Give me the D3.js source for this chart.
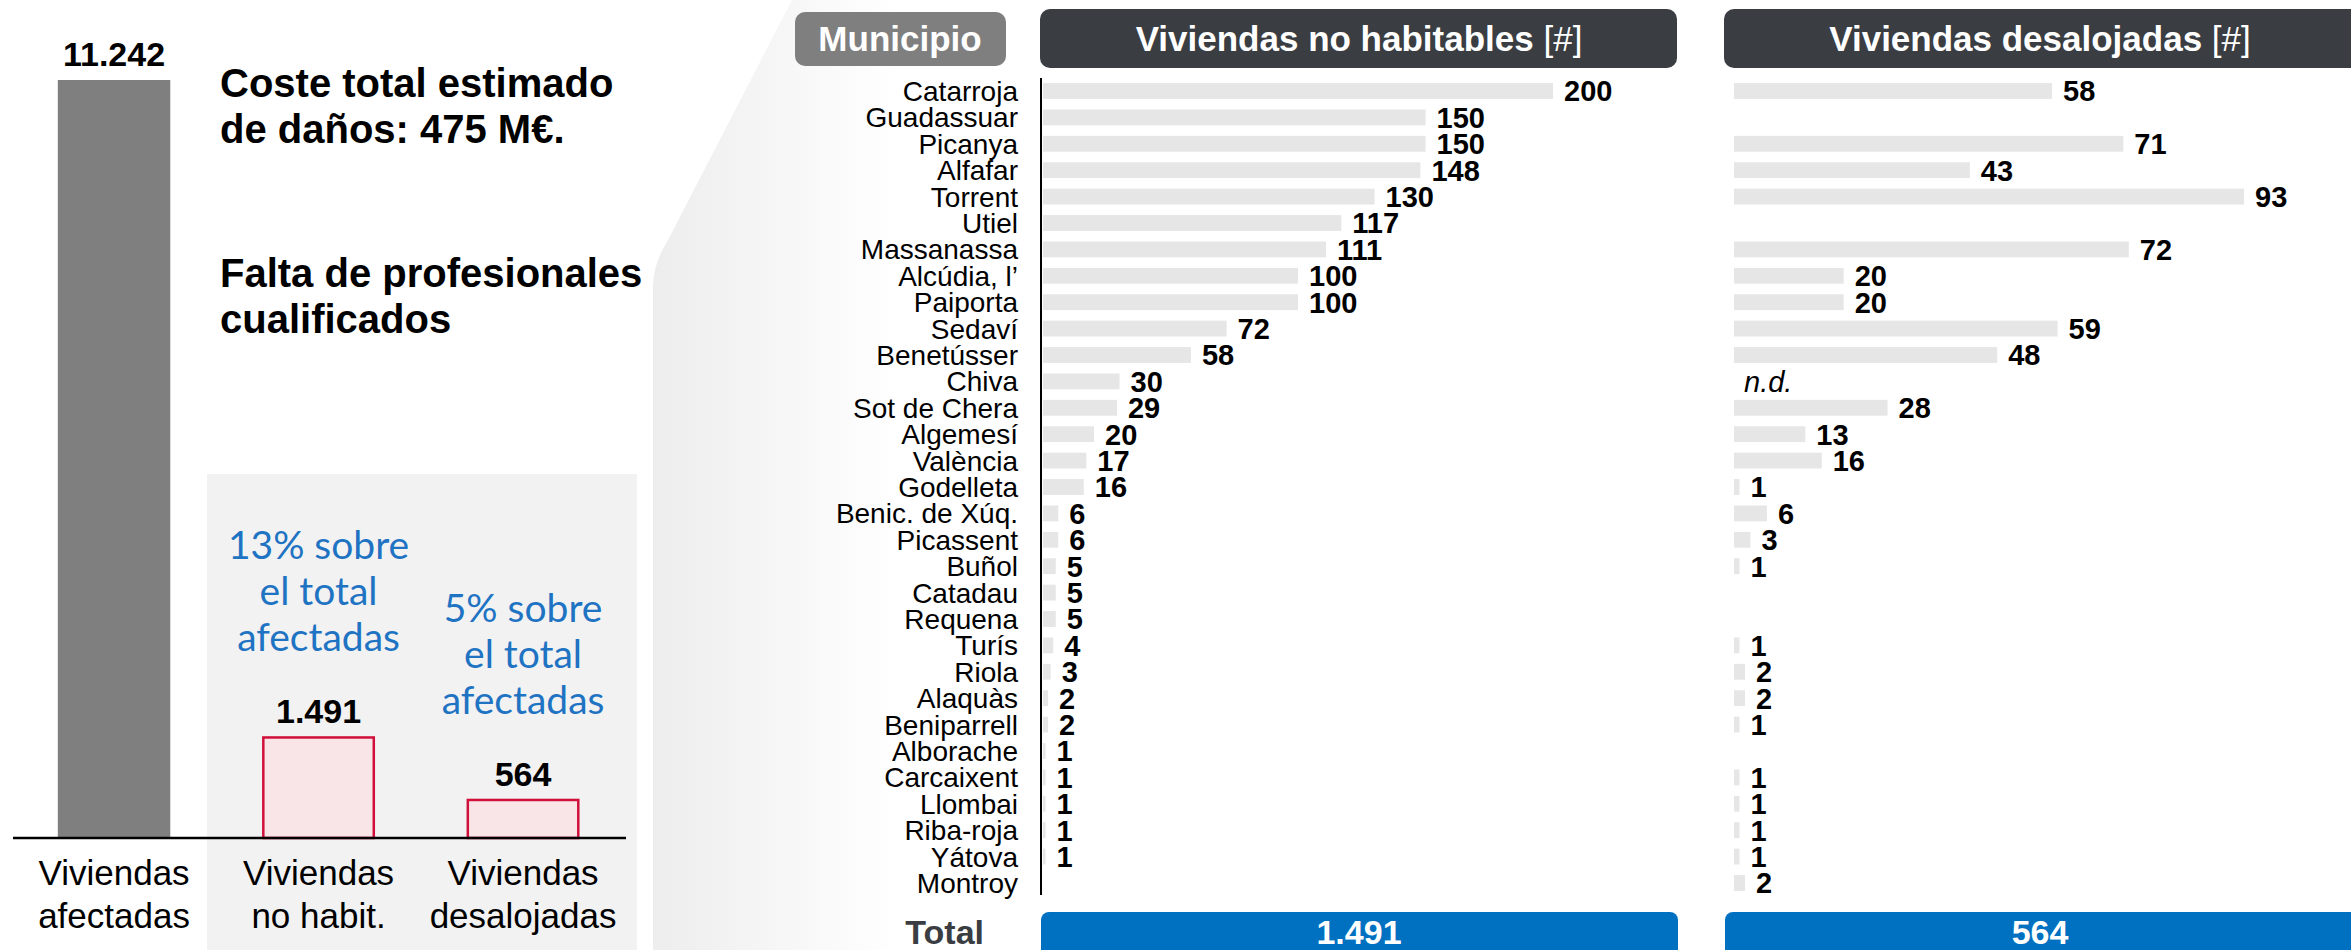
<!DOCTYPE html>
<meta charset="utf-8">
<body>
  <svg id="grafico"></svg>
</body>

<style>
body { margin: 0; background: #fff; }
svg text { font-family: "Liberation Sans", Arial, sans-serif; }
.valor { font-weight: bold; font-size: 29px; fill: #000; }
.municipio { font-size: 28px; fill: #000; }
.nota { font-family: Lato, "Open Sans", sans-serif !important; font-size: 39px; fill: #1f73c3; }
</style>

<script src="https://d3js.org/d3.v7.min.js"></script>
<script>

// datos
var municipios = ["Catarroja", "Guadassuar", "Picanya", "Alfafar", "Torrent", "Utiel", "Massanassa",
  "Alcúdia, l’", "Paiporta", "Sedaví", "Benetússer", "Chiva", "Sot de Chera", "Algemesí", "València",
  "Godelleta", "Benic. de Xúq.", "Picassent", "Buñol", "Catadau", "Requena", "Turís", "Riola", "Alaquàs",
  "Beniparrell", "Alborache", "Carcaixent", "Llombai", "Riba-roja", "Yátova", "Montroy"];

var noHabitables = [200, 150, 150, 148, 130, 117, 111, 100, 100, 72, 58, 30, 29, 20, 17,
  16, 6, 6, 5, 5, 5, 4, 3, 2, 2, 1, 1, 1, 1, 1, null];

var desalojadas = [58, null, 71, 43, 93, null, 72, 20, 20, 59, 48, null, 28, 13, 16,
  1, 6, 3, 1, null, null, 1, 2, 2, 1, null, 1, 1, 1, 1, 2];

var sinDatos = ["Chiva"];

var resumenCategorias = [["Viviendas", "afectadas"], ["Viviendas", "no habit."], ["Viviendas", "desalojadas"]];
var resumenValores = [11242, 1491, 564];
var notas = [null, ["13% sobre", "el total", "afectadas"], ["5% sobre", "el total", "afectadas"]];

var textoIzq = [["Coste total estimado", "de daños: 475 M€."], ["Falta de profesionales", "cualificados"]];

var es = d3.formatLocale({decimal: ",", thousands: ".", grouping: [3], currency: ["", "€"]});
var fmt = es.format(",d");

var width = 2351, height = 950;
var svg = d3.select("#grafico").attr("width", width).attr("height", height);

// fondo del embudo
var defs = svg.append("defs");
var grad = defs.append("linearGradient").attr("id", "embudo")
    .attr("gradientUnits", "userSpaceOnUse")
    .attr("x1", 653).attr("x2", 900).attr("y1", 0).attr("y2", 0);
grad.append("stop").attr("offset", 0).attr("stop-color", "#ededed");
grad.append("stop").attr("offset", 1).attr("stop-color", "#ffffff");

svg.append("path")
    .attr("d", "M653,950 L653,285 Q654,262 668,240 L792,0 L1000,0 L1000,950 Z")
    .attr("fill", "url(#embudo)");

// PANEL IZQUIERDO

svg.append("rect").attr("x", 207).attr("y", 474).attr("width", 430).attr("height", 476).attr("fill", "#f2f2f2");

var xRes = d3.scaleBand().domain(d3.range(3)).range([11.8, 625.3]).paddingInner(0.45).paddingOuter(0.225);
var yRes = d3.scaleLinear().domain([0, d3.max(resumenValores)]).range([838, 80]);

svg.append("g").selectAll("rect")
  .data(resumenValores)
  .join("rect")
    .attr("x", (d, i) => xRes(i) + (i ? 1 : 0))
    .attr("width", (d, i) => xRes.bandwidth() - (i ? 2 : 0))
    .attr("y", d => yRes(d))
    .attr("height", d => yRes(0) - yRes(d))
    .attr("fill", (d, i) => i ? "#f9e4e7" : "#7f7f7f")
    .attr("stroke", (d, i) => i ? "#d0103a" : "none")
    .attr("stroke-width", 2.5);

svg.append("g").selectAll("text")
  .data(resumenValores)
  .join("text")
    .attr("x", (d, i) => xRes(i) + xRes.bandwidth() / 2)
    .attr("y", d => yRes(d) - 14)
    .attr("text-anchor", "middle")
    .attr("font-weight", "bold")
    .attr("font-size", 34)
    .text(d => fmt(d));

svg.append("line").attr("x1", 13).attr("x2", 626).attr("y1", 838).attr("y2", 838)
    .attr("stroke", "#000").attr("stroke-width", 2.5);

svg.append("g").selectAll("text")
  .data(resumenCategorias)
  .join("text")
    .attr("x", (d, i) => xRes(i) + xRes.bandwidth() / 2)
    .attr("y", 885)
    .attr("text-anchor", "middle")
    .attr("font-size", 35)
    .selectAll("tspan")
    .data(d => d)
    .join("tspan")
      .attr("x", function() { return this.parentNode.getAttribute("x"); })
      .attr("dy", (d, j) => j ? 43 : 0)
      .text(d => d);

// notas manuscritas
notas.forEach(function(n, i) {
  if (!n) return;
  var top = yRes(resumenValores[i]) - 178;
  svg.append("text").attr("class", "nota")
      .attr("x", xRes(i) + xRes.bandwidth() / 2)
      .attr("y", top)
      .attr("text-anchor", "middle")
    .selectAll("tspan").data(n).join("tspan")
      .attr("x", xRes(i) + xRes.bandwidth() / 2)
      .attr("dy", (d, j) => j ? 46 : 0)
      .text(d => d);
});

textoIzq.forEach(function(t, i) {
  svg.append("text")
      .attr("x", 220).attr("y", 97 + i * 190)
      .attr("font-weight", "bold").attr("font-size", 40)
    .selectAll("tspan").data(t).join("tspan")
      .attr("x", 220)
      .attr("dy", (d, j) => j ? 46 : 0)
      .text(d => d);
});

// PANEL DERECHO

var y = d3.scaleBand().domain(municipios).range([77.8, 896.2]).paddingInner(0.4).paddingOuter(0.2);
var x1 = d3.scaleLinear().domain([0, d3.max(noHabitables)]).range([1043, 1553]);
var x2 = d3.scaleLinear().domain([0, d3.max(desalojadas)]).range([1734, 2244]);

// cabeceras
function cabecera(x, w, y0, h, color, negrita, normal, cx) {
  svg.append("rect").attr("x", x).attr("y", y0).attr("width", w).attr("height", h)
      .attr("rx", 10).attr("fill", color);
  var t = svg.append("text").attr("x", cx).attr("y", 51).attr("text-anchor", "middle")
      .attr("font-size", 35).attr("fill", "#fff");
  t.append("tspan").attr("font-weight", "bold").text(negrita);
  if (normal) t.append("tspan").text(normal);
}
cabecera(795, 211, 12, 54, "#7f7f7f", "Municipio", null, 900);
cabecera(1040, 637, 9, 59, "#3a3d41", "Viviendas no habitables", " [#]", 1359);
cabecera(1724, 660, 9, 59, "#3a3d41", "Viviendas desalojadas", " [#]", 2040);

// etiquetas de municipio
svg.append("g").selectAll("text")
  .data(municipios)
  .join("text")
    .attr("class", "municipio")
    .attr("x", 1018)
    .attr("y", d => y(d) + y.bandwidth() / 2)
    .attr("dy", "0.36em")
    .attr("text-anchor", "end")
    .text(d => d);

function barras(valores, x) {
  var datos = municipios.map((m, i) => ({m: m, v: valores[i]})).filter(d => d.v != null);
  var g = svg.append("g");
  g.selectAll("rect")
    .data(datos)
    .join("rect")
      .attr("x", x(0))
      .attr("y", d => y(d.m))
      .attr("width", d => x(d.v) - x(0))
      .attr("height", y.bandwidth())
      .attr("fill", "#e6e6e6");
  g.selectAll("text")
    .data(datos)
    .join("text")
      .attr("class", "valor")
      .attr("x", d => x(d.v) + 11)
      .attr("y", d => y(d.m) + y.bandwidth() / 2)
      .attr("dy", "0.36em")
      .text(d => fmt(d.v));
}
barras(noHabitables, x1);
barras(desalojadas, x2);

// eje vertical
svg.append("line").attr("x1", 1041).attr("x2", 1041).attr("y1", 78).attr("y2", 895)
    .attr("stroke", "#000").attr("stroke-width", 2);

// sin datos
svg.append("g").selectAll("text")
  .data(sinDatos)
  .join("text")
    .attr("x", x2(0) + 10)
    .attr("y", d => y(d) + y.bandwidth() / 2)
    .attr("dy", "0.36em")
    .attr("font-size", 29)
    .attr("font-style", "italic")
    .text("n.d.");

// totales
svg.append("text").attr("x", 984).attr("y", 944).attr("text-anchor", "end")
    .attr("font-weight", "bold").attr("font-size", 34).attr("fill", "#3a3d41").text("Total");

[[1041, 637, d3.sum(noHabitables)], [1725, 660, d3.sum(desalojadas)]].forEach(function(t) {
  svg.append("rect").attr("x", t[0]).attr("y", 912).attr("width", t[1]).attr("height", 60)
      .attr("rx", 8).attr("fill", "#0070c0");
});
svg.append("text").attr("x", 1359).attr("y", 944).attr("text-anchor", "middle")
    .attr("font-weight", "bold").attr("font-size", 34).attr("fill", "#fff").text(fmt(d3.sum(noHabitables)));
svg.append("text").attr("x", 2040).attr("y", 944).attr("text-anchor", "middle")
    .attr("font-weight", "bold").attr("font-size", 34).attr("fill", "#fff").text(fmt(d3.sum(desalojadas)));

</script>
